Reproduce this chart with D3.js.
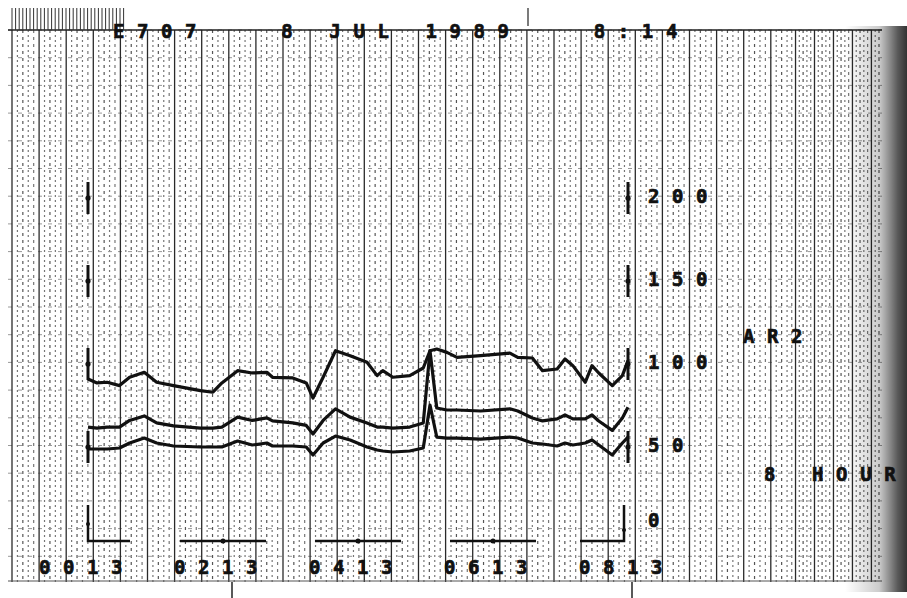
<!DOCTYPE html>
<html>
<head>
<meta charset="utf-8">
<script src="https://cdn.jsdelivr.net/npm/d3@7"></script>
<style>
  html, body { margin: 0; padding: 0; background: #fff; }
  svg { display: block; }
  text { font-family: "DejaVu Sans Mono", monospace; font-weight: bold; fill: #111; stroke: #111; stroke-width: 0.7; white-space: pre; }
</style>
</head>
<body>
<div id="chart"></div>
<script>
//////////////  Data  //////////////
const header = "E707   8 JUL 1989   8:14";
const channel = "AR2";
const spanLabel = "8 HOUR";

// sample times (clock time, start 00:13)
const times = ["00:13","00:21","00:30","00:41","00:50","01:03","01:14","01:29","01:53","02:04",
  "02:12","02:26","02:39","02:52","02:57","03:15","03:27","03:33","03:42","03:53",
  "04:06","04:21","04:30","04:35","04:44","04:59","05:11","05:17","05:23","05:32",
  "05:41","06:02","06:28","06:35","06:48","06:57","07:10","07:17","07:24","07:35",
  "07:41","07:47","07:59","08:08","08:13"];

const upper = [91,88.6,89,87,92,95,89,87,84,83,
  88.6,96,94.6,95,92,91.6,88.6,79.5,92,108,
  105,101,93,96,92,93,97.6,108,109,107,
  104,105,106.6,104,103.6,96,97,103,99,89,
  99,94.6,87,93,102];

const middle = [62,61.4,62,62,66,68.7,64.5,62.7,61.4,61.4,
  62,68,66,67.5,65.7,64.5,63,57.8,66,73,
  68,64.5,62,62,61.4,62,64.5,108,73.5,72.3,
  72.3,71.7,73,71.7,67.5,65.7,66.9,69.3,66.9,66.9,
  69.3,65.7,60,67.5,74];

const lower = [48.8,48.8,48.8,49.4,52.4,55.4,52.4,50.6,50,50,
  50,53.6,51.2,52.4,50.6,50.6,50,45.2,52.4,56.6,
  54.2,50,48.2,47.6,47,47.6,49.4,75.3,56,55.4,
  55.4,54.8,56,55.4,52.4,51.8,50.6,52.4,51.2,52.4,
  54.2,51.2,45.2,52.4,56];

const yTicks = [0, 50, 100, 150, 200];
const xTicks = ["00:13", "02:13", "04:13", "06:13", "08:13"];

//////////////  Init  //////////////
const width = 907;
const height = 598;

const svg = d3.select("#chart").append("svg")
  .attr("width", width).attr("height", height);

const parseTime = d3.timeParse("%H:%M");
const formatTick = d3.timeFormat("%H%M");

const xScale = d3.scaleTime()
  .domain([parseTime("00:13"), parseTime("08:13")])
  .range([88, 628]);
const yScale = d3.scaleLinear().domain([0, 200]).range([530, 198]);

// paper grid (lines crowd together where the page curls away on the right)
const curl = x => x > 790 ? 790 + (x - 790) * 0.7 : x;
const grid = svg.append("g");
const majorX = d3.range(12, 920, 27.1).map(curl);
const minorX = d3.range(12, 920, 27.1 / 5).filter((_, i) => i % 5 !== 0).map(curl);
const gridY = d3.range(30, 582, 27.7);

grid.selectAll(".minor").data(minorX).join("line")
  .attr("x1", d => d).attr("x2", d => d)
  .attr("y1", 30).attr("y2", 582)
  .attr("stroke", (d, i) => i % 4 === 1 ? "#555" : "#777")
  .attr("stroke-width", 1.2)
  .attr("stroke-dasharray", (d, i) => i % 2 ? "3,4" : "2,3");

grid.selectAll(".hz").data(gridY).join("line")
  .attr("x1", 8).attr("x2", 885)
  .attr("y1", d => d).attr("y2", d => d)
  .attr("stroke", "#999").attr("stroke-width", 1)
  .attr("stroke-dasharray", "4,6");

grid.selectAll(".major").data(majorX).join("line")
  .attr("x1", d => d).attr("x2", d => d)
  .attr("y1", 30).attr("y2", 582)
  .attr("stroke", "#2a2a2a").attr("stroke-width", 1.3);

grid.append("line")
  .attr("x1", 8).attr("x2", 882).attr("y1", 30).attr("y2", 30)
  .attr("stroke", "#222").attr("stroke-width", 1.5);
grid.append("line")
  .attr("x1", 8).attr("x2", 882).attr("y1", 581).attr("y2", 581)
  .attr("stroke", "#555").attr("stroke-width", 1);

// comb at top-left of the paper
grid.selectAll(".comb").data(d3.range(12, 126, 3.6)).join("line")
  .attr("x1", d => d).attr("x2", d => d)
  .attr("y1", 8).attr("y2", 30)
  .attr("stroke", "#333").attr("stroke-width", 1);

// small marks outside the paper
grid.append("line").attr("x1", 528).attr("x2", 528).attr("y1", 8).attr("y2", 26)
  .attr("stroke", "#222").attr("stroke-width", 1.2);
[232, 632].forEach(x => grid.append("line")
  .attr("x1", x).attr("x2", x).attr("y1", 582).attr("y2", 598)
  .attr("stroke", "#222").attr("stroke-width", 1.5));

// page curl shadow on the right
const grad = svg.append("defs").append("linearGradient").attr("id", "curlShade");
grad.append("stop").attr("offset", "0%").attr("stop-color", "#000").attr("stop-opacity", 0);
grad.append("stop").attr("offset", "55%").attr("stop-color", "#000").attr("stop-opacity", 0.2);
grad.append("stop").attr("offset", "85%").attr("stop-color", "#000").attr("stop-opacity", 0.65);
grad.append("stop").attr("offset", "100%").attr("stop-color", "#000").attr("stop-opacity", 0.8);
svg.append("rect").attr("x", 845).attr("y", 26).attr("width", 62).attr("height", 566)
  .attr("fill", "url(#curlShade)");

//////////////  Axes marks  //////////////
const ink = "#111";
const marks = svg.append("g").attr("stroke", ink).attr("fill", ink);

// value bars on both edges
[xScale.range()[0], xScale.range()[1]].forEach(x => {
  marks.selectAll(null).data(yTicks.filter(v => v > 0)).join("line")
    .attr("x1", x).attr("x2", x)
    .attr("y1", d => yScale(d) - 16).attr("y2", d => yScale(d) + 16)
    .attr("stroke-width", 3);
  marks.selectAll(null).data(yTicks.filter(v => v > 0)).join("circle")
    .attr("cx", x).attr("cy", d => yScale(d)).attr("r", 2.6).attr("stroke", "none");
});

// time brackets along the bottom
const baseY = 541;
const half = 43;
const x0 = xScale.range()[0], x1 = xScale.range()[1];
marks.append("path")
  .attr("d", `M${x0},${yScale(0) - 25}V${baseY}H${x0 + 42}`)
  .attr("fill", "none").attr("stroke-width", 2.5);
marks.append("path")
  .attr("d", `M${x1 - 4},${yScale(0) - 25}V${baseY}H${x1 - 48}`)
  .attr("fill", "none").attr("stroke-width", 2.5);
marks.append("circle").attr("cx", x0).attr("cy", yScale(0) - 6).attr("r", 2).attr("stroke", "none");
marks.append("circle").attr("cx", x1 - 4).attr("cy", yScale(0)).attr("r", 2).attr("stroke", "none");

const inner = xTicks.slice(1, -1).map(parseTime);
marks.selectAll(".br").data(inner).join("line")
  .attr("x1", d => xScale(d) - half).attr("x2", d => xScale(d) + half)
  .attr("y1", baseY).attr("y2", baseY).attr("stroke-width", 2.5);
marks.selectAll(".brdot").data(inner).join("circle")
  .attr("cx", d => xScale(d)).attr("cy", baseY).attr("r", 2.5).attr("stroke", "none");

//////////////  Text  //////////////
const fs = 19;
const ls = 12.6;

svg.append("text").attr("x", 113).attr("y", 38)
  .attr("font-size", fs).attr("letter-spacing", ls).text(header);

svg.selectAll(".xl").data(xTicks.map(parseTime)).join("text")
  .attr("x", d => xScale(d) - 49).attr("y", 574)
  .attr("font-size", fs).attr("letter-spacing", ls)
  .text(d => formatTick(d));

svg.selectAll(".yl").data(yTicks).join("text")
  .attr("x", 648).attr("y", d => yScale(d) + (d === 0 ? -3 : 5))
  .attr("font-size", fs).attr("letter-spacing", ls)
  .text(d => d);

svg.append("text").attr("x", 743).attr("y", 343)
  .attr("font-size", fs).attr("letter-spacing", ls).text(channel);
svg.append("text").attr("x", 764).attr("y", 481)
  .attr("font-size", fs).attr("letter-spacing", ls).text(spanLabel);

//////////////  Traces  //////////////
const t = times.map(parseTime);
const line = d3.line()
  .x((d, i) => xScale(t[i]))
  .y(d => yScale(d));

[upper, middle, lower].forEach(series => {
  svg.append("path")
    .datum(series)
    .attr("fill", "none")
    .attr("stroke", ink)
    .attr("stroke-width", 3.2)
    .attr("stroke-linejoin", "round")
    .attr("d", line);
});
</script>
</body>
</html>
